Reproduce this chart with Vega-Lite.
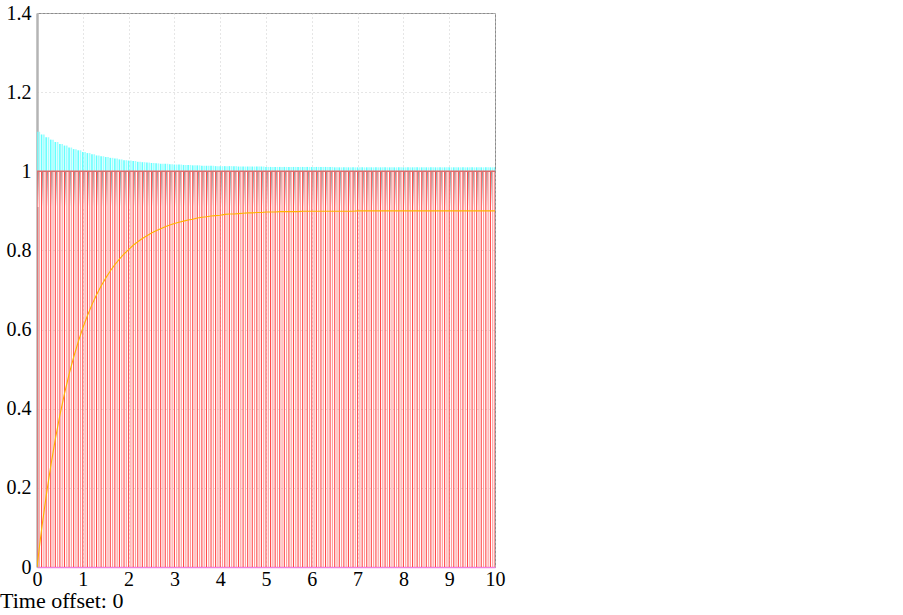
{
  "$schema": "https://vega.github.io/schema/vega-lite/v6.json",
  "width": 458,
  "height": 554,
  "autosize": "none",
  "padding": {"left": 37, "top": 13, "right": 408, "bottom": 48},
  "background": "white",
  "config": {
    "view": {"stroke": "#8c8c8c", "strokeWidth": 1},
    "font": "Liberation Serif"
  },
  "title": {
    "text": "Time offset: 0",
    "orient": "bottom",
    "anchor": "start",
    "frame": "group",
    "dx": -37,
    "offset": 2,
    "font": "Liberation Serif",
    "fontSize": 22,
    "fontWeight": "normal",
    "color": "#000000"
  },
  "data": {
    "values": [
      {"t": 0.0, "p": 1.100, "v": 0.000, "s": 1, "lo": 0.91},
      {"t": 0.1, "p": 1.093, "v": 0.095, "s": 1, "lo": 0.91},
      {"t": 0.2, "p": 1.086, "v": 0.179, "s": 1, "lo": 0.91},
      {"t": 0.3, "p": 1.080, "v": 0.255, "s": 1, "lo": 0.91},
      {"t": 0.4, "p": 1.074, "v": 0.323, "s": 1, "lo": 0.91},
      {"t": 0.5, "p": 1.069, "v": 0.384, "s": 1, "lo": 0.91},
      {"t": 0.6, "p": 1.065, "v": 0.438, "s": 1, "lo": 0.91},
      {"t": 0.7, "p": 1.060, "v": 0.487, "s": 1, "lo": 0.91},
      {"t": 0.8, "p": 1.056, "v": 0.530, "s": 1, "lo": 0.91},
      {"t": 0.9, "p": 1.053, "v": 0.569, "s": 1, "lo": 0.91},
      {"t": 1.0, "p": 1.049, "v": 0.604, "s": 1, "lo": 0.91},
      {"t": 1.1, "p": 1.046, "v": 0.635, "s": 1, "lo": 0.91},
      {"t": 1.2, "p": 1.043, "v": 0.663, "s": 1, "lo": 0.91},
      {"t": 1.3, "p": 1.040, "v": 0.688, "s": 1, "lo": 0.91},
      {"t": 1.4, "p": 1.038, "v": 0.710, "s": 1, "lo": 0.91},
      {"t": 1.5, "p": 1.036, "v": 0.730, "s": 1, "lo": 0.91},
      {"t": 1.6, "p": 1.034, "v": 0.748, "s": 1, "lo": 0.91},
      {"t": 1.7, "p": 1.032, "v": 0.764, "s": 1, "lo": 0.91},
      {"t": 1.8, "p": 1.030, "v": 0.778, "s": 1, "lo": 0.91},
      {"t": 1.9, "p": 1.028, "v": 0.791, "s": 1, "lo": 0.91},
      {"t": 2.0, "p": 1.027, "v": 0.802, "s": 1, "lo": 0.91},
      {"t": 2.1, "p": 1.026, "v": 0.813, "s": 1, "lo": 0.91},
      {"t": 2.2, "p": 1.024, "v": 0.822, "s": 1, "lo": 0.91},
      {"t": 2.3, "p": 1.023, "v": 0.830, "s": 1, "lo": 0.91},
      {"t": 2.4, "p": 1.022, "v": 0.837, "s": 1, "lo": 0.91},
      {"t": 2.5, "p": 1.021, "v": 0.844, "s": 1, "lo": 0.91},
      {"t": 2.6, "p": 1.020, "v": 0.850, "s": 1, "lo": 0.91},
      {"t": 2.7, "p": 1.019, "v": 0.855, "s": 1, "lo": 0.91},
      {"t": 2.8, "p": 1.019, "v": 0.860, "s": 1, "lo": 0.91},
      {"t": 2.9, "p": 1.018, "v": 0.864, "s": 1, "lo": 0.91},
      {"t": 3.0, "p": 1.017, "v": 0.868, "s": 1, "lo": 0.91},
      {"t": 3.1, "p": 1.017, "v": 0.871, "s": 1, "lo": 0.91},
      {"t": 3.2, "p": 1.016, "v": 0.874, "s": 1, "lo": 0.91},
      {"t": 3.3, "p": 1.016, "v": 0.877, "s": 1, "lo": 0.91},
      {"t": 3.4, "p": 1.015, "v": 0.879, "s": 1, "lo": 0.91},
      {"t": 3.5, "p": 1.015, "v": 0.882, "s": 1, "lo": 0.91},
      {"t": 3.6, "p": 1.014, "v": 0.884, "s": 1, "lo": 0.91},
      {"t": 3.7, "p": 1.014, "v": 0.885, "s": 1, "lo": 0.91},
      {"t": 3.8, "p": 1.014, "v": 0.887, "s": 1, "lo": 0.91},
      {"t": 3.9, "p": 1.013, "v": 0.888, "s": 1, "lo": 0.91},
      {"t": 4.0, "p": 1.013, "v": 0.889, "s": 1, "lo": 0.91},
      {"t": 4.1, "p": 1.013, "v": 0.891, "s": 1, "lo": 0.91},
      {"t": 4.2, "p": 1.013, "v": 0.892, "s": 1, "lo": 0.91},
      {"t": 4.3, "p": 1.013, "v": 0.892, "s": 1, "lo": 0.91},
      {"t": 4.4, "p": 1.012, "v": 0.893, "s": 1, "lo": 0.91},
      {"t": 4.5, "p": 1.012, "v": 0.894, "s": 1, "lo": 0.91},
      {"t": 4.6, "p": 1.012, "v": 0.895, "s": 1, "lo": 0.91},
      {"t": 4.7, "p": 1.012, "v": 0.895, "s": 1, "lo": 0.91},
      {"t": 4.8, "p": 1.012, "v": 0.896, "s": 1, "lo": 0.91},
      {"t": 4.9, "p": 1.012, "v": 0.896, "s": 1, "lo": 0.91},
      {"t": 5.0, "p": 1.011, "v": 0.897, "s": 1, "lo": 0.91},
      {"t": 5.1, "p": 1.011, "v": 0.897, "s": 1, "lo": 0.91},
      {"t": 5.2, "p": 1.011, "v": 0.897, "s": 1, "lo": 0.91},
      {"t": 5.3, "p": 1.011, "v": 0.898, "s": 1, "lo": 0.91},
      {"t": 5.4, "p": 1.011, "v": 0.898, "s": 1, "lo": 0.91},
      {"t": 5.5, "p": 1.011, "v": 0.898, "s": 1, "lo": 0.91},
      {"t": 5.6, "p": 1.011, "v": 0.898, "s": 1, "lo": 0.91},
      {"t": 5.7, "p": 1.011, "v": 0.898, "s": 1, "lo": 0.91},
      {"t": 5.8, "p": 1.011, "v": 0.899, "s": 1, "lo": 0.91},
      {"t": 5.9, "p": 1.011, "v": 0.899, "s": 1, "lo": 0.91},
      {"t": 6.0, "p": 1.011, "v": 0.899, "s": 1, "lo": 0.91},
      {"t": 6.1, "p": 1.011, "v": 0.899, "s": 1, "lo": 0.91},
      {"t": 6.2, "p": 1.011, "v": 0.899, "s": 1, "lo": 0.91},
      {"t": 6.3, "p": 1.011, "v": 0.899, "s": 1, "lo": 0.91},
      {"t": 6.4, "p": 1.011, "v": 0.899, "s": 1, "lo": 0.91},
      {"t": 6.5, "p": 1.010, "v": 0.899, "s": 1, "lo": 0.91},
      {"t": 6.6, "p": 1.010, "v": 0.899, "s": 1, "lo": 0.91},
      {"t": 6.7, "p": 1.010, "v": 0.899, "s": 1, "lo": 0.91},
      {"t": 6.8, "p": 1.010, "v": 0.899, "s": 1, "lo": 0.91},
      {"t": 6.9, "p": 1.010, "v": 0.899, "s": 1, "lo": 0.91},
      {"t": 7.0, "p": 1.010, "v": 0.900, "s": 1, "lo": 0.91},
      {"t": 7.1, "p": 1.010, "v": 0.900, "s": 1, "lo": 0.91},
      {"t": 7.2, "p": 1.010, "v": 0.900, "s": 1, "lo": 0.91},
      {"t": 7.3, "p": 1.010, "v": 0.900, "s": 1, "lo": 0.91},
      {"t": 7.4, "p": 1.010, "v": 0.900, "s": 1, "lo": 0.91},
      {"t": 7.5, "p": 1.010, "v": 0.900, "s": 1, "lo": 0.91},
      {"t": 7.6, "p": 1.010, "v": 0.900, "s": 1, "lo": 0.91},
      {"t": 7.7, "p": 1.010, "v": 0.900, "s": 1, "lo": 0.91},
      {"t": 7.8, "p": 1.010, "v": 0.900, "s": 1, "lo": 0.91},
      {"t": 7.9, "p": 1.010, "v": 0.900, "s": 1, "lo": 0.91},
      {"t": 8.0, "p": 1.010, "v": 0.900, "s": 1, "lo": 0.91},
      {"t": 8.1, "p": 1.010, "v": 0.900, "s": 1, "lo": 0.91},
      {"t": 8.2, "p": 1.010, "v": 0.900, "s": 1, "lo": 0.91},
      {"t": 8.3, "p": 1.010, "v": 0.900, "s": 1, "lo": 0.91},
      {"t": 8.4, "p": 1.010, "v": 0.900, "s": 1, "lo": 0.91},
      {"t": 8.5, "p": 1.010, "v": 0.900, "s": 1, "lo": 0.91},
      {"t": 8.6, "p": 1.010, "v": 0.900, "s": 1, "lo": 0.91},
      {"t": 8.7, "p": 1.010, "v": 0.900, "s": 1, "lo": 0.91},
      {"t": 8.8, "p": 1.010, "v": 0.900, "s": 1, "lo": 0.91},
      {"t": 8.9, "p": 1.010, "v": 0.900, "s": 1, "lo": 0.91},
      {"t": 9.0, "p": 1.010, "v": 0.900, "s": 1, "lo": 0.91},
      {"t": 9.1, "p": 1.010, "v": 0.900, "s": 1, "lo": 0.91},
      {"t": 9.2, "p": 1.010, "v": 0.900, "s": 1, "lo": 0.91},
      {"t": 9.3, "p": 1.010, "v": 0.900, "s": 1, "lo": 0.91},
      {"t": 9.4, "p": 1.010, "v": 0.900, "s": 1, "lo": 0.91},
      {"t": 9.5, "p": 1.010, "v": 0.900, "s": 1, "lo": 0.91},
      {"t": 9.6, "p": 1.010, "v": 0.900, "s": 1, "lo": 0.91},
      {"t": 9.7, "p": 1.010, "v": 0.900, "s": 1, "lo": 0.91},
      {"t": 9.8, "p": 1.010, "v": 0.900, "s": 1, "lo": 0.91},
      {"t": 9.9, "p": 1.010, "v": 0.900, "s": 1, "lo": 0.91},
      {"t": 10.0, "p": 1.010, "v": 0.900, "s": 1, "lo": 0.91}
    ]
  },
  "encoding": {
    "x": {"field": "t", "type": "quantitative", "scale": {"domain": [0, 10], "nice": false, "padding": 0},
      "axis": {"values": [0,1,2,3,4,5,6,7,8,9,10], "title": null, "grid": true, "gridColor": "#cccccc", "gridDash": [1, 3],
        "domain": true, "domainColor": "#f080e0", "domainWidth": 1.5, "ticks": false, "labelPadding": 2, "labelFlush": false,
        "labelFont": "Liberation Serif", "labelFontSize": 20, "labelColor": "#000000"}}
  },
  "layer": [
    {
      "mark": {"type": "bar", "width": 1.6, "xOffset": 1.2, "clip": true,
        "color": {"gradient": "linear", "x1": 0, "y1": 0, "x2": 0, "y2": 1,
          "stops": [{"offset": 0, "color": "#8a9c9c"}, {"offset": 0.4, "color": "#b5bebe"}, {"offset": 1, "color": "#ffffff"}]}},
      "encoding": {
        "y": {"field": "lo", "type": "quantitative", "scale": {"domain": [0, 1.4], "nice": false},
          "axis": {"values": [0,0.2,0.4,0.6,0.8,1,1.2,1.4], "format": "~g", "title": null, "grid": true, "gridColor": "#cccccc", "gridDash": [1, 3],
            "domain": true, "domainColor": "#b4b4b4", "domainWidth": 2.5, "ticks": false, "labelPadding": 6, "labelFlush": false,
            "labelFont": "Liberation Serif", "labelFontSize": 20, "labelColor": "#000000"}},
        "y2": {"field": "s"}
      }
    },
    {
      "mark": {"type": "bar", "color": "#ff4a4a", "width": 1.1, "clip": true},
      "encoding": {
        "y": {"field": "s", "type": "quantitative"}
      }
    },
    {
      "mark": {"type": "bar", "color": "#ff9a9a", "width": 1.1, "xOffset": 2.3, "clip": true},
      "encoding": {
        "y": {"field": "s", "type": "quantitative"}
      }
    },
    {
      "mark": {"type": "bar", "color": "#66ffff", "width": 1.6, "clip": true},
      "encoding": {
        "y": {"field": "s", "type": "quantitative"},
        "y2": {"field": "p"}
      }
    },
    {
      "mark": {"type": "bar", "color": "#a0ffff", "width": 1.6, "xOffset": 2.3, "clip": true},
      "encoding": {
        "y": {"field": "s", "type": "quantitative"},
        "y2": {"field": "p"}
      }
    },
    {
      "mark": {"type": "line", "color": "#e06a6a", "strokeWidth": 1.5, "clip": true},
      "encoding": {
        "y": {"field": "s", "type": "quantitative"}
      }
    },
    {
      "mark": {"type": "line", "color": "#ffb400", "strokeWidth": 1.1, "clip": true},
      "encoding": {
        "y": {"field": "v", "type": "quantitative"}
      }
    }
  ]
}
